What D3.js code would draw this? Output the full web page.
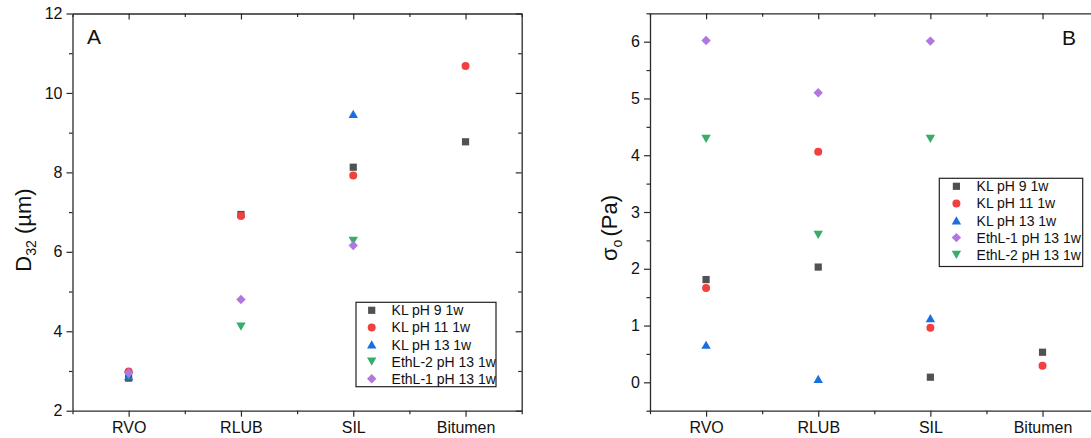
<!DOCTYPE html>
<html><head><meta charset="utf-8">
<script src="https://cdn.jsdelivr.net/npm/d3@7"></script>
<style>body{margin:0;background:#fff}svg{display:block;font-family:Arial,"Liberation Sans",sans-serif}</style>
</head><body><svg id="c" width="1091" height="438"></svg>
<script>
const categories = ["RVO","RLUB","SIL","Bitumen"];
// Panel A: D32 (µm)
const kl9A   = [2.82, 6.94, 8.13, 8.77];
const kl11A  = [2.99, 6.90, 7.92, 10.68];
const kl13A  = [2.87, null, 9.47, null];
const ethl2A = [2.90, 4.12, 6.28, null];
const ethl1A = [2.95, 4.80, 6.16, null];
// Panel B: sigma_o (Pa)
const kl9B   = [1.81, 2.03, 0.09, 0.53];
const kl11B  = [1.66, 4.06, 0.96, 0.29];
const kl13B  = [0.66, 0.06, 1.13, null];
const ethl1B = [6.02, 5.10, 6.01, null];
const ethl2B = [4.29, 2.60, 4.29, null];
const yTicksA = [2,4,6,8,10,12];
const yTicksB = [0,1,2,3,4,5,6];

const svg = d3.select("#c");
const FONT = "Arial, 'Liberation Sans', sans-serif";
const colors = {kl9:"#515151", kl11:"#F14040", kl13:"#1A6FDF", ethl1:"#B177DE", ethl2:"#37AD6B"};
const shapes = {kl9:"square", kl11:"circle", kl13:"up", ethl1:"diamond", ethl2:"down"};
const labels = {kl9:"KL pH 9 1w", kl11:"KL pH 11 1w", kl13:"KL pH 13 1w", ethl1:"EthL-1 pH 13 1w", ethl2:"EthL-2 pH 13 1w"};

function marker(g, key, x, y){
  const c = colors[key], s = shapes[key];
  if (s==="square") g.append("rect").attr("x",x-3.6).attr("y",y-3.6).attr("width",7.2).attr("height",7.2).attr("fill",c);
  else if (s==="circle") g.append("circle").attr("cx",x).attr("cy",y).attr("r",4).attr("fill",c);
  else if (s==="up") g.append("path").attr("d",`M${x},${y-4.2}L${x+4.7},${y+4}L${x-4.7},${y+4}Z`).attr("fill",c);
  else if (s==="down") g.append("path").attr("d",`M${x},${y+4.2}L${x+4.7},${y-4}L${x-4.7},${y-4}Z`).attr("fill",c);
  else g.append("path").attr("d",`M${x},${y-4.7}L${x+4.7},${y}L${x},${y+4.7}L${x-4.7},${y}Z`).attr("fill",c);
}

function panel(opts){
  const {x0,x1,y0,y1,ydom,yTicks,yMinor,series,legend,letter,ylabel} = opts;
  const x = d3.scaleLinear().domain([-0.5,3.5]).range([x0,x1]);
  const y = d3.scaleLinear().domain(ydom).range([y1,y0]);
  const g = svg.append("g");
  const col = "#2a2a2a";
  const style = sel => { sel.selectAll("path.domain").attr("stroke",col).attr("stroke-width",1.3);
    sel.selectAll(".tick line").attr("stroke",col).attr("stroke-width",1.2);
    sel.selectAll(".tick text").attr("font-size",16).attr("fill","#111").attr("font-family",FONT); };
  const majX = [0,1,2,3], minX = [-0.5,0.5,1.5,2.5,3.5];
  // bottom
  g.append("g").attr("transform",`translate(0,${y1})`).call(d3.axisBottom(x).tickValues(majX).tickFormat(i=>categories[i]).tickSize(6).tickPadding(5).tickSizeOuter(0)).call(style);
  g.append("g").attr("transform",`translate(0,${y1})`).call(d3.axisBottom(x).tickValues(minX).tickFormat("").tickSize(3.5).tickSizeOuter(0)).call(style).select(".domain").remove();
  // top
  g.append("g").attr("transform",`translate(0,${y0})`).call(d3.axisTop(x).tickValues(majX).tickFormat("").tickSize(-6).tickSizeOuter(0)).call(style);
  g.append("g").attr("transform",`translate(0,${y0})`).call(d3.axisTop(x).tickValues(minX).tickFormat("").tickSize(-3.5).tickSizeOuter(0)).call(style).select(".domain").remove();
  // left
  g.append("g").attr("transform",`translate(${x0},0)`).call(d3.axisLeft(y).tickValues(yTicks).tickFormat(d3.format("d")).tickSize(6).tickPadding(4).tickSizeOuter(0)).call(style);
  g.append("g").attr("transform",`translate(${x0},0)`).call(d3.axisLeft(y).tickValues(yMinor).tickFormat("").tickSize(3.5).tickSizeOuter(0)).call(style).select(".domain").remove();
  // right
  g.append("g").attr("transform",`translate(${x1},0)`).call(d3.axisRight(y).tickValues(yTicks).tickFormat("").tickSize(-6).tickSizeOuter(0)).call(style);
  g.append("g").attr("transform",`translate(${x1},0)`).call(d3.axisRight(y).tickValues(yMinor).tickFormat("").tickSize(-3.5).tickSizeOuter(0)).call(style).select(".domain").remove();

  const pts = g.append("g");
  series.forEach(([key,vals]) => vals.forEach((v,i) => { if (v!=null) marker(pts,key,x(i),y(v)); }));

  // legend
  const L = legend;
  g.append("rect").attr("x",L.x).attr("y",L.y).attr("width",L.w).attr("height",L.h).attr("fill","#fff").attr("stroke","#222").attr("stroke-width",1.2);
  L.keys.forEach((k,i) => {
    const ry = L.y + 8 + i*17.1;
    marker(g,k,L.sx,ry);
    g.append("text").attr("x",L.tx).attr("y",ry).attr("dy","0.36em").attr("font-size",14).attr("font-family",FONT).attr("fill","#111").text(labels[k]);
  });
  g.append("text").attr("x",letter.x).attr("y",letter.y).attr("font-size",21).attr("font-family",FONT).attr("fill","#111").text(letter.t);
  const yl = g.append("text").attr("transform",`translate(${ylabel.x},${ylabel.y}) rotate(-90)`).attr("text-anchor","middle").attr("font-size",22).attr("font-family",FONT).attr("fill","#111");
  ylabel.build(yl);
}

panel({x0:72.5, x1:521.7, y0:13.5, y1:410.7, ydom:[2,12], yTicks:yTicksA, yMinor:[3,5,7,9,11],
  series:[["kl9",kl9A],["kl11",kl11A],["kl13",kl13A],["ethl2",ethl2A],["ethl1",ethl1A]],
  legend:{x:356,y:302.3,w:140,h:84.4,sx:371.7,tx:391.6,keys:["kl9","kl11","kl13","ethl2","ethl1"]},
  letter:{x:87,y:43.5,t:"A"},
  ylabel:{x:31,y:230,build:t=>{t.append("tspan").text("D");t.append("tspan").attr("font-size",14).attr("dy",5).text("32");t.append("tspan").attr("dy",-5).text(" (µm)");}}
});
panel({x0:650, x1:1098.6, y0:13.3, y1:410.7, ydom:[-0.5,6.5], yTicks:yTicksB, yMinor:[-0.5,0.5,1.5,2.5,3.5,4.5,5.5,6.5],
  series:[["kl9",kl9B],["kl11",kl11B],["kl13",kl13B],["ethl2",ethl2B],["ethl1",ethl1B]],
  legend:{x:939.3,y:178.3,w:143.4,h:88.2,sx:956.4,tx:976.6,keys:["kl9","kl11","kl13","ethl1","ethl2"]},
  letter:{x:1062,y:45,t:"B"},
  ylabel:{x:617,y:228,build:t=>{t.append("tspan").text("σ");t.append("tspan").attr("font-size",14).attr("dy",5).text("o");t.append("tspan").attr("dy",-5).attr("dx",3).text("(Pa)");}}
});
</script></body></html>
